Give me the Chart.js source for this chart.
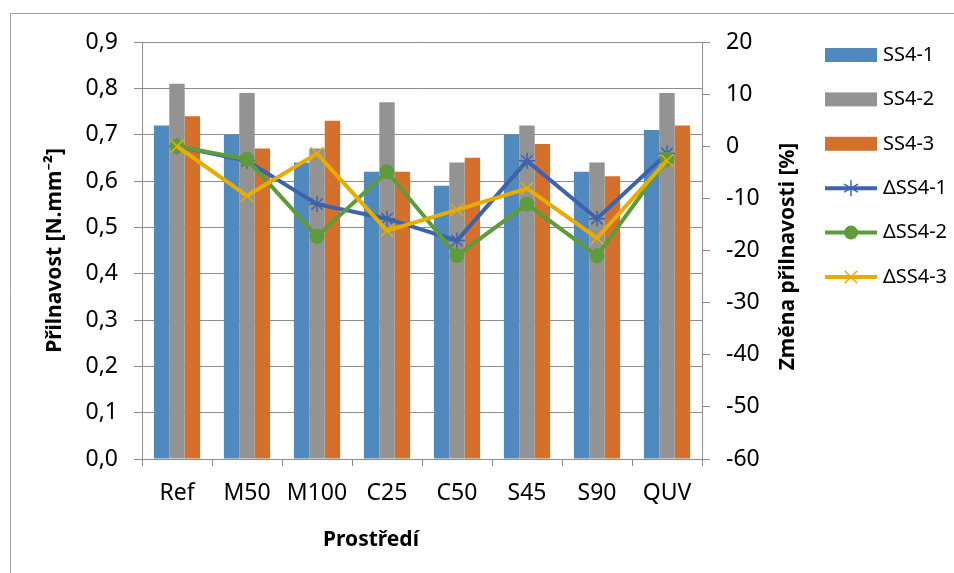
<!DOCTYPE html>
<html>
<head>
<meta charset="utf-8">
<script src="https://cdn.jsdelivr.net/npm/chart.js"></script>
<style>
  html, body { margin: 0; padding: 0; background: #fff; }
  #wrap { width: 954px; height: 573px; }
</style>
</head>
<body>
<div id="wrap"><canvas id="chart" width="954" height="573"></canvas></div>
<script>
// data
const categories = ['Ref', 'M50', 'M100', 'C25', 'C50', 'S45', 'S90', 'QUV'];
const ss41 = [0.72, 0.70, 0.64, 0.62, 0.59, 0.70, 0.62, 0.71];
const ss42 = [0.81, 0.79, 0.67, 0.77, 0.64, 0.72, 0.64, 0.79];
const ss43 = [0.74, 0.67, 0.73, 0.62, 0.65, 0.68, 0.61, 0.72];
const dss41 = [0, -2.8, -11.1, -13.9, -18.1, -2.8, -13.9, -1.4];
const dss42 = [0, -2.5, -17.3, -4.9, -21.0, -11.1, -21.0, -2.5];
const dss43 = [0, -9.5, -1.4, -16.2, -12.2, -8.1, -17.6, -2.7];

const xTitle = 'Prostředí';
const rightTitle = 'Změna přilnavosti [%]';

const FONT = "'Noto Sans', sans-serif";
const GRID = '#8c8c8c';

// outer frame (only top and left edges are visible in the picture)
const framePlugin = {
  id: 'frame',
  beforeDraw(chart) {
    const ctx = chart.ctx;
    ctx.save();
    ctx.strokeStyle = '#a0a0a0';
    ctx.lineWidth = 1;
    ctx.beginPath();
    ctx.moveTo(10.5, 573);
    ctx.lineTo(10.5, 13.5);
    ctx.lineTo(954, 13.5);
    ctx.stroke();
    ctx.restore();
  }
};

// x title sits left of centre, right title reads bottom-to-top
const titlesPlugin = {
  id: 'extraTitles',
  afterDraw(chart) {
    const ctx = chart.ctx;
    const s = chart.scales.y2;
    ctx.save();
    ctx.font = 'bold 21px ' + FONT;
    ctx.fillStyle = '#000';
    ctx.textAlign = 'center';
    ctx.textBaseline = 'middle';
    ctx.fillText(xTitle, 371, 540);
    ctx.translate(s.right - 12, (s.top + s.bottom) / 2 + 6);
    ctx.rotate(-Math.PI / 2);
    ctx.fillText(rightTitle, 0, 0);
    ctx.restore();
  }
};

// legend drawn by hand so line items get their markers
const legendPlugin = {
  id: 'sideLegend',
  afterDraw(chart) {
    const ctx = chart.ctx;
    const x0 = 825, w = 52, y0 = 55, gap = 44.4;
    ctx.save();
    ctx.font = '20px ' + FONT;
    ctx.textBaseline = 'middle';
    ctx.fillStyle = '#000';
    chart.data.datasets.forEach((ds, i) => {
      const y = y0 + i * gap;
      if (ds.type === 'bar') {
        ctx.fillStyle = ds.backgroundColor;
        ctx.fillRect(x0, y - 7, w, 14);
      } else {
        ctx.strokeStyle = ds.borderColor;
        ctx.lineWidth = ds.borderWidth;
        ctx.beginPath();
        ctx.moveTo(x0, y);
        ctx.lineTo(x0 + w, y);
        ctx.stroke();
        const cx = x0 + w / 2, r = ds.pointRadius;
        ctx.lineWidth = ds.pointBorderWidth;
        ctx.strokeStyle = ds.pointBorderColor;
        ctx.fillStyle = ds.pointBackgroundColor;
        ctx.beginPath();
        if (ds.pointStyle === 'circle') {
          ctx.arc(cx, y, r, 0, Math.PI * 2);
          ctx.fill();
        } else if (ds.pointStyle === 'crossRot') {
          ctx.moveTo(cx - r * 0.7, y - r * 0.7); ctx.lineTo(cx + r * 0.7, y + r * 0.7);
          ctx.moveTo(cx - r * 0.7, y + r * 0.7); ctx.lineTo(cx + r * 0.7, y - r * 0.7);
          ctx.stroke();
        } else {
          ctx.moveTo(cx, y - r); ctx.lineTo(cx, y + r);
          ctx.moveTo(cx - r * 0.87, y - r * 0.5); ctx.lineTo(cx + r * 0.87, y + r * 0.5);
          ctx.moveTo(cx - r * 0.87, y + r * 0.5); ctx.lineTo(cx + r * 0.87, y - r * 0.5);
          ctx.stroke();
        }
      }
      ctx.fillStyle = '#000';
      ctx.fillText(ds.label, x0 + w + 6, y);
    });
    ctx.restore();
  }
};

const ctx = document.getElementById('chart').getContext('2d');
new Chart(ctx, {
  data: {
    labels: categories,
    datasets: [
      { type: 'bar', label: 'SS4-1', data: ss41, backgroundColor: '#4f89be', yAxisID: 'y', order: 10 },
      { type: 'bar', label: 'SS4-2', data: ss42, backgroundColor: '#939393', yAxisID: 'y', order: 10 },
      { type: 'bar', label: 'SS4-3', data: ss43, backgroundColor: '#d4702b', yAxisID: 'y', order: 10 },
      {
        type: 'line', label: 'ΔSS4-1', data: dss41, yAxisID: 'y2', order: 3,
        borderColor: '#3d63ae', borderWidth: 4,
        pointStyle: 'star', pointRadius: 8, pointBorderWidth: 1.5,
        pointBorderColor: '#3d63ae', pointBackgroundColor: '#3d63ae'
      },
      {
        type: 'line', label: 'ΔSS4-2', data: dss42, yAxisID: 'y2', order: 2,
        borderColor: '#5f9b3b', borderWidth: 4,
        pointStyle: 'circle', pointRadius: 7, pointBorderWidth: 1,
        pointBorderColor: '#5f9b3b', pointBackgroundColor: '#5f9b3b'
      },
      {
        type: 'line', label: 'ΔSS4-3', data: dss43, yAxisID: 'y2', order: 1,
        borderColor: '#e6ac00', borderWidth: 4,
        pointStyle: 'crossRot', pointRadius: 9, pointBorderWidth: 1.5,
        pointBorderColor: '#e6ac00', pointBackgroundColor: '#e6ac00'
      }
    ]
  },
  options: {
    responsive: false,
    animation: false,
    layout: { padding: { top: 42, right: 154, left: 0, bottom: 0 } },
    datasets: {
      bar: { categoryPercentage: 0.66, barPercentage: 1.0 },
      line: { tension: 0 }
    },
    plugins: {
      legend: { display: false },
      tooltip: { enabled: false }
    },
    scales: {
      x: {
        grid: { offset: true, drawOnChartArea: false, color: GRID, tickLength: 7 },
        border: { color: GRID },
        ticks: { color: '#000', font: { family: FONT, size: 23 }, padding: 14, maxRotation: 0 },
        title: { display: false },
        afterFit(scale) { scale.height = 114; }
      },
      y: {
        position: 'left',
        min: 0, max: 0.9,
        ticks: {
          stepSize: 0.1, color: '#000', font: { family: FONT, size: 23 }, padding: 16,
          callback: v => v.toFixed(1).replace('.', ',')
        },
        grid: { color: GRID, tickLength: 8 },
        border: { color: GRID },
        title: { display: true, text: 'Přilnavost [N.mm⁻²]', color: '#000', font: { family: FONT, size: 21, weight: 'bold' }, padding: { top: 42, bottom: 0 } },
        afterFit(scale) { scale.width = 142; }
      },
      y2: {
        position: 'right',
        min: -60, max: 20,
        ticks: { stepSize: 10, color: '#000', font: { family: FONT, size: 23 }, padding: 16 },
        grid: { drawOnChartArea: false, color: GRID, tickLength: 8 },
        border: { color: GRID },
        title: { display: false },
        afterFit(scale) { scale.width = 98; }
      }
    }
  },
  plugins: [framePlugin, titlesPlugin, legendPlugin]
});
</script>
</body>
</html>
